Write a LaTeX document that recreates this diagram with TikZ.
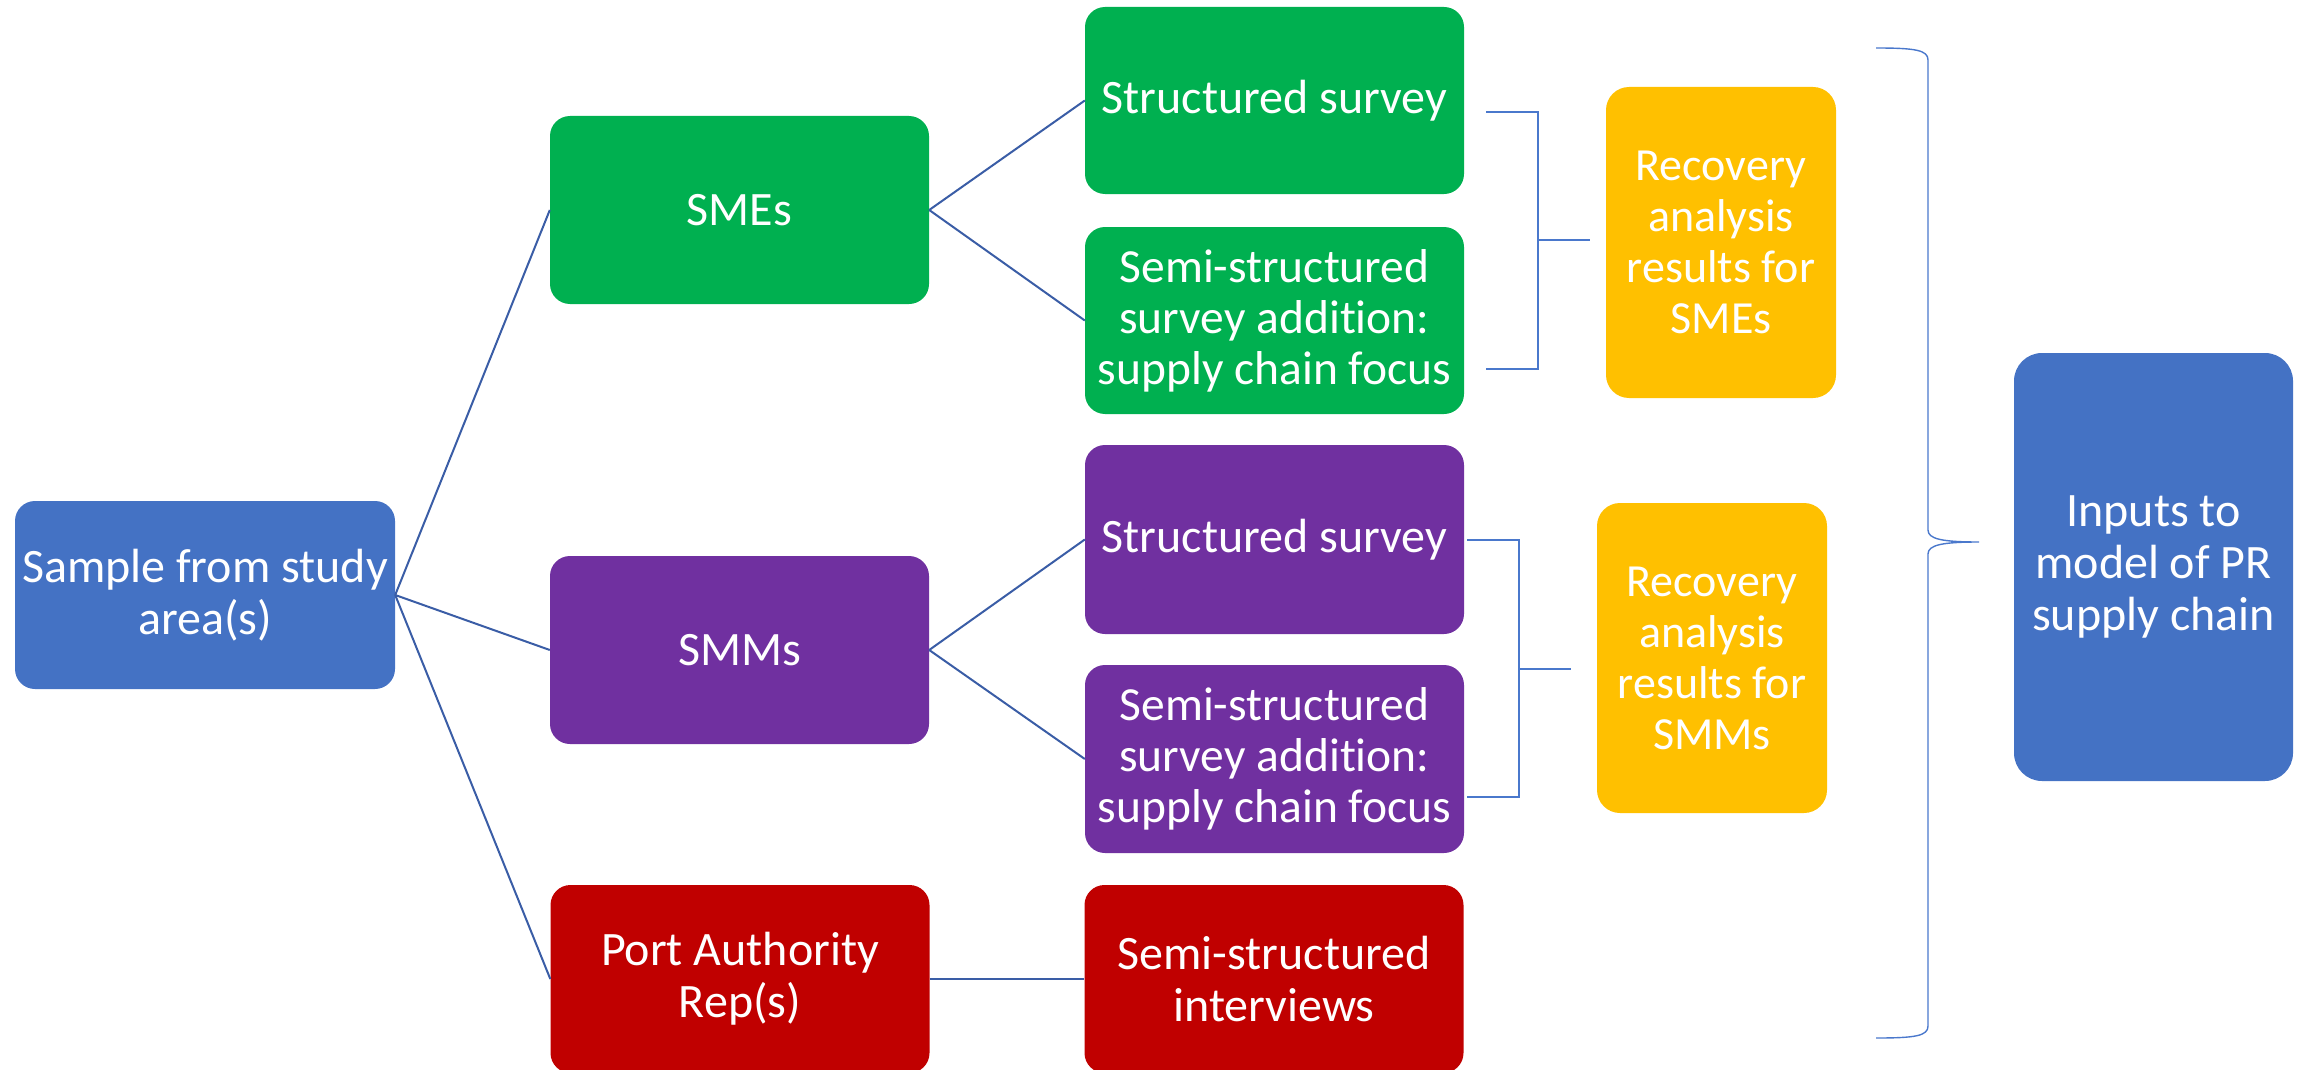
\documentclass[tikz,border=0pt]{standalone}
\usepackage{fontspec}
\setmainfont{Carlito}[Ligatures=CommonOff]
\definecolor{cblue}{HTML}{4472C4}
\definecolor{cgreen}{HTML}{00B050}
\definecolor{cpurple}{HTML}{7030A0}
\definecolor{cred}{HTML}{C00000}
\definecolor{cyellow}{HTML}{FFC000}
\definecolor{linkc}{HTML}{3A5DA6}
\definecolor{brk}{HTML}{4A78CC}
\begin{document}
\begin{tikzpicture}[x=1pt,y=-1pt,
  box/.style={rectangle, rounded corners=20pt, inner sep=0pt, align=center, text=white,
    minimum width=379pt, minimum height=188pt},
  fA/.style={font=\fontsize{48}{52}\selectfont},
  fB/.style={font=\fontsize{48}{54}\selectfont},
  fC/.style={font=\fontsize{47.5}{51}\selectfont},
  fY/.style={font=\fontsize{46}{51}\selectfont},
  link/.style={draw=linkc, line width=2pt},
  bracket/.style={draw=brk, line width=1.4pt}]
\useasboundingbox (0,0) rectangle (2305,1070);
% left column
\node[box, fill=cblue, fA, minimum width=380pt] (sample) at (205,595) {Sample from study\\area(s)};
\node[box, fill=cgreen, fB] (smes) at (739.5,210) {SMEs};
\node[box, fill=cpurple, fB] (smms) at (739.5,650) {SMMs};
\node[box, fill=cred, fA] (port) at (740,979) {Port Authority\\Rep(s)};
% methods column
\node[box, fill=cgreen, fB, minimum height=187pt] (ss1) at (1274.5,100.5) {Structured survey};
\node[box, fill=cgreen, fC, minimum height=187pt] (ss2) at (1274.5,320.5) {Semi-structured\\survey addition:\\supply chain focus};
\node[box, fill=cpurple, fB, minimum height=189pt] (ps1) at (1274.5,539.5) {Structured survey};
\node[box, fill=cpurple, fC] (ps2) at (1274.5,759) {Semi-structured\\survey addition:\\supply chain focus};
\node[box, fill=cred, fA] (ri) at (1274,979) {Semi-structured\\interviews};
% results
\node[box, fill=cyellow, fY, rounded corners=23pt,
  minimum width=230pt, minimum height=311pt] (y1) at (1721,242.5) {Recovery\\analysis\\results for\\SMEs};
\node[box, fill=cyellow, fY, rounded corners=23pt,
  minimum width=230pt, minimum height=310pt] (y2) at (1712,658) {Recovery\\analysis\\results for\\SMMs};
\node[box, fill=cblue, fA, rounded corners=28pt,
  minimum width=279pt, minimum height=428pt] (inp) at (2153.5,567) {Inputs to\\model of PR\\supply chain};
% tree connectors
\draw[link] (sample.east) -- (smes.west);
\draw[link] (sample.east) -- (smms.west);
\draw[link] (sample.east) -- (port.west);
\draw[link] (smes.east) -- (ss1.west);
\draw[link] (smes.east) -- (ss2.west);
\draw[link] (smms.east) -- (ps1.west);
\draw[link] (smms.east) -- (ps2.west);
\draw[link] (port.east) -- (ri.west);
% brackets
\coordinate (b1a) at (1486,112);
\coordinate (b1b) at (1486,369);
\coordinate (b1m) at (1538,240);
\draw[bracket] (b1a) -- (1538,112) -- (1538,369) -- (b1b);
\draw[bracket] (b1m) -- (1590,240);
\coordinate (b2a) at (1467,540);
\coordinate (b2b) at (1467,797);
\coordinate (b2m) at (1519,669);
\draw[bracket] (b2a) -- (1519,540) -- (1519,797) -- (b2b);
\draw[bracket] (b2m) -- (1571,669);
% brace
\draw[bracket] (1876,48) .. controls (1915,48) and (1928,50) .. (1928,60)
  -- (1928,530) .. controls (1928,539) and (1942,542) .. (1979,542)
  .. controls (1942,542) and (1928,545) .. (1928,554)
  -- (1928,1026) .. controls (1928,1036) and (1915,1038) .. (1876,1038);
\end{tikzpicture}
\end{document}
